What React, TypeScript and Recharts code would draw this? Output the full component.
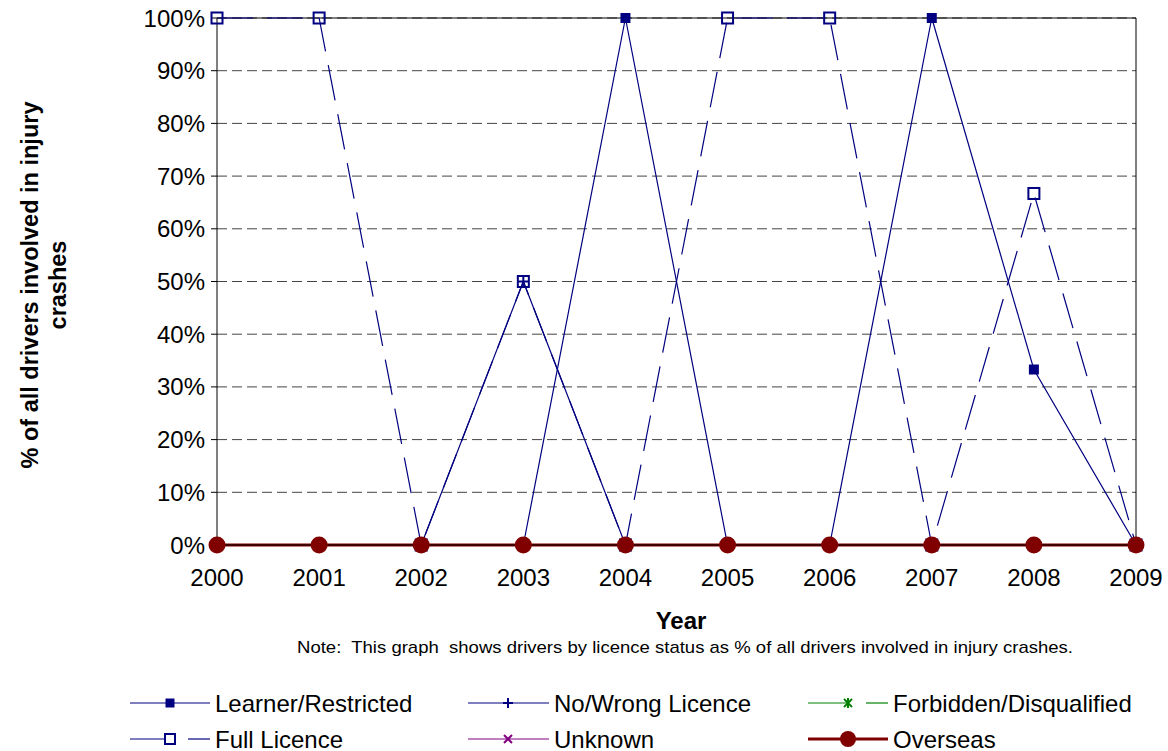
import React from "react";
import {
  LineChart,
  Line,
  XAxis,
  YAxis,
  CartesianGrid,
  ReferenceLine,
} from "recharts";

const years = [2000, 2001, 2002, 2003, 2004, 2005, 2006, 2007, 2008, 2009];
const learnerRestricted = [0, 0, 0, 0, 100, 0, 0, 100, 33.3, 0];
const noWrongLicence = [0, 0, 0, 50, 0, 0, 0, 0, 0, 0];
const fullLicence = [100, 100, 0, 50, 0, 100, 100, 0, 66.7, 0];
const forbiddenDisqualified = [0, 0, 0, 0, 0, 0, 0, 0, 0, 0];
const unknown = [0, 0, 0, 0, 0, 0, 0, 0, 0, 0];
const overseas = [0, 0, 0, 0, 0, 0, 0, 0, 0, 0];
const yTicks = [0, 10, 20, 30, 40, 50, 60, 70, 80, 90, 100];

const data = years.map((y, i) => ({
  year: y,
  learner: learnerRestricted[i],
  noWrong: noWrongLicence[i],
  full: fullLicence[i],
  forbidden: forbiddenDisqualified[i],
  unknown: unknown[i],
  overseas: overseas[i],
}));

const NAVY = "#000080";
const GREEN = "#008000";
const PURPLE = "#800080";
const MAROON = "#800000";
const FONT = "'Liberation Sans', Arial, sans-serif";

const FilledSquare = (p: any) => {
  const { cx, cy, index } = p;
  if (cx == null || cy == null) return <g key={`fs${index}`} />;
  return <rect key={`fs${index}`} x={cx - 5} y={cy - 5} width={10} height={10} fill={NAVY} />;
};
const HollowSquare = (p: any) => {
  const { cx, cy, index } = p;
  if (cx == null || cy == null) return <g key={`hs${index}`} />;
  return (
    <rect key={`hs${index}`} x={cx - 5.5} y={cy - 5.5} width={11} height={11} fill="none" stroke={NAVY} strokeWidth={2} />
  );
};
const PlusMark = (p: any) => {
  const { cx, cy, index } = p;
  if (cx == null || cy == null) return <g key={`pm${index}`} />;
  return (
    <g key={`pm${index}`} stroke={NAVY} strokeWidth={2}>
      <line x1={cx - 5} y1={cy} x2={cx + 5} y2={cy} />
      <line x1={cx} y1={cy - 5} x2={cx} y2={cy + 5} />
    </g>
  );
};
const AsteriskMark = (p: any) => {
  const { cx, cy, index } = p;
  if (cx == null || cy == null) return <g key={`am${index}`} />;
  return (
    <g key={`am${index}`} stroke={GREEN} strokeWidth={2}>
      <line x1={cx - 4} y1={cy - 4} x2={cx + 4} y2={cy + 4} />
      <line x1={cx - 4} y1={cy + 4} x2={cx + 4} y2={cy - 4} />
      <line x1={cx} y1={cy - 5} x2={cx} y2={cy + 5} />
    </g>
  );
};
const XMark = (p: any) => {
  const { cx, cy, index } = p;
  if (cx == null || cy == null) return <g key={`xm${index}`} />;
  return (
    <g key={`xm${index}`} stroke={PURPLE} strokeWidth={2}>
      <line x1={cx - 4} y1={cy - 4} x2={cx + 4} y2={cy + 4} />
      <line x1={cx - 4} y1={cy + 4} x2={cx + 4} y2={cy - 4} />
    </g>
  );
};
const CircleMark = (p: any) => {
  const { cx, cy, index } = p;
  if (cx == null || cy == null) return <g key={`cm${index}`} />;
  return <circle key={`cm${index}`} cx={cx} cy={cy} r={8.5} fill={MAROON} />;
};

type LegendItem = {
  label: string;
  color: string;
  marker: string;
  dashed: boolean;
  x: number;
  y: number;
  textX: number;
};

const legendItems: LegendItem[] = [
  { label: "Learner/Restricted", color: NAVY, marker: "fsq", dashed: false, x: 130, y: 703, textX: 215 },
  { label: "No/Wrong Licence", color: NAVY, marker: "plus", dashed: false, x: 468, y: 703, textX: 554 },
  { label: "Forbidden/Disqualified", color: GREEN, marker: "ast", dashed: true, x: 808, y: 703, textX: 893 },
  { label: "Full Licence", color: NAVY, marker: "hsq", dashed: true, x: 130, y: 739, textX: 215 },
  { label: "Unknown", color: PURPLE, marker: "x", dashed: false, x: 468, y: 739, textX: 554 },
  { label: "Overseas", color: MAROON, marker: "circ", dashed: false, x: 808, y: 739, textX: 893 },
];

const legendMarker = (m: string, cx: number, cy: number, color: string) => {
  switch (m) {
    case "fsq":
      return <rect x={cx - 4.5} y={cy - 4.5} width={9} height={9} fill={color} />;
    case "hsq":
      return <rect x={cx - 5} y={cy - 5} width={10} height={10} fill="white" stroke={color} strokeWidth={2} />;
    case "plus":
      return (
        <g stroke={color} strokeWidth={2}>
          <line x1={cx - 5} y1={cy} x2={cx + 5} y2={cy} />
          <line x1={cx} y1={cy - 5} x2={cx} y2={cy + 5} />
        </g>
      );
    case "ast":
      return (
        <g stroke={color} strokeWidth={2}>
          <line x1={cx - 4} y1={cy - 4} x2={cx + 4} y2={cy + 4} />
          <line x1={cx - 4} y1={cy + 4} x2={cx + 4} y2={cy - 4} />
          <line x1={cx} y1={cy - 5} x2={cx} y2={cy + 5} />
        </g>
      );
    case "x":
      return (
        <g stroke={color} strokeWidth={2}>
          <line x1={cx - 4} y1={cy - 4} x2={cx + 4} y2={cy + 4} />
          <line x1={cx - 4} y1={cy + 4} x2={cx + 4} y2={cy - 4} />
        </g>
      );
    case "circ":
      return <circle cx={cx} cy={cy} r={8} fill={color} />;
    default:
      return null;
  }
};

export default function App() {
  return (
    <div style={{ position: "absolute", left: 0, top: 0, width: 1168, height: 751, background: "white" }}>
      <LineChart
        width={1168}
        height={751}
        data={data}
        margin={{ top: 18, right: 32, bottom: 166, left: 0 }}
      >
        <CartesianGrid vertical={false} horizontal={true} stroke="#444" strokeDasharray="10 5" />
        <XAxis
          dataKey="year"
          type="number"
          domain={[2000, 2009]}
          ticks={years}
          height={40}
          axisLine={{ stroke: "#000" }}
          tickLine={false}
          tickSize={6}
          tickMargin={18}
          tick={{ fill: "#000", fontSize: 24, fontFamily: FONT }}
          interval={0}
        />
        <YAxis
          type="number"
          domain={[0, 100]}
          ticks={yTicks}
          width={217}
          axisLine={{ stroke: "#000" }}
          tickLine={{ stroke: "#000" }}
          tickSize={6}
          tickMargin={6}
          tick={{ fill: "#000", fontSize: 24, fontFamily: FONT }}
          tickFormatter={(v: number) => `${v}%`}
          interval={0}
        />
        <ReferenceLine y={100} stroke="#000" strokeWidth={1} />
        <ReferenceLine x={2009} stroke="#000" strokeWidth={1} />
        <Line
          dataKey="learner"
          stroke={NAVY}
          strokeWidth={1.2}
          dot={FilledSquare}
          isAnimationActive={false}
        />
        <Line
          dataKey="noWrong"
          stroke={NAVY}
          strokeWidth={1.2}
          dot={PlusMark}
          isAnimationActive={false}
        />
        <Line
          dataKey="full"
          stroke={NAVY}
          strokeWidth={1.2}
          strokeDasharray="36 14"
          dot={HollowSquare}
          isAnimationActive={false}
        />
        <Line
          dataKey="forbidden"
          stroke={GREEN}
          strokeWidth={1.2}
          strokeDasharray="30 10"
          dot={AsteriskMark}
          isAnimationActive={false}
        />
        <Line
          dataKey="unknown"
          stroke={PURPLE}
          strokeWidth={1.2}
          dot={XMark}
          isAnimationActive={false}
        />
        <Line
          dataKey="overseas"
          stroke={MAROON}
          strokeWidth={3}
          dot={CircleMark}
          isAnimationActive={false}
        />
      </LineChart>
      <svg
        width={1168}
        height={751}
        style={{ position: "absolute", left: 0, top: 0, pointerEvents: "none" }}
      >
        <g transform="translate(30,285) rotate(-90)">
          <text x={0} y={0} textAnchor="middle" dominantBaseline="central" fontFamily={FONT} fontWeight="bold" fontSize={23.5} fill="#000">
            % of all drivers involved in injury
          </text>
        </g>
        <g transform="translate(58,285) rotate(-90)">
          <text x={0} y={0} textAnchor="middle" dominantBaseline="central" fontFamily={FONT} fontWeight="bold" fontSize={23.5} fill="#000">
            crashes
          </text>
        </g>
        <text x={681} y={620} textAnchor="middle" dominantBaseline="central" fontFamily={FONT} fontWeight="bold" fontSize={24} fill="#000">
          Year
        </text>
        <text
          x={297}
          y={647}
          dominantBaseline="central"
          fontFamily="'Liberation Sans Narrow', 'Liberation Sans', Arial, sans-serif"
          fontSize={17}
          fill="#000"
          textLength={776}
          lengthAdjust="spacingAndGlyphs"
          style={{ whiteSpace: "pre" }}
        >
          {"Note:  This graph  shows drivers by licence status as % of all drivers involved in injury crashes."}
        </text>
        {legendItems.map((it) => {
          const end = it.textX - 5;
          const mx = it.x + 40;
          return (
            <g key={it.label}>
              {it.dashed ? (
                <g stroke={it.color} strokeWidth={1.2}>
                  <line x1={it.x} y1={it.y} x2={mx} y2={it.y} />
                  <line x1={mx + 18} y1={it.y} x2={end} y2={it.y} />
                </g>
              ) : (
                <line x1={it.x} y1={it.y} x2={end} y2={it.y} stroke={it.color} strokeWidth={it.marker === "circ" ? 3 : 1.2} />
              )}
              {legendMarker(it.marker, mx, it.y, it.color)}
              <text x={it.textX} y={it.y} dominantBaseline="central" fontFamily={FONT} fontSize={24} fill="#000">
                {it.label}
              </text>
            </g>
          );
        })}
      </svg>
    </div>
  );
}
